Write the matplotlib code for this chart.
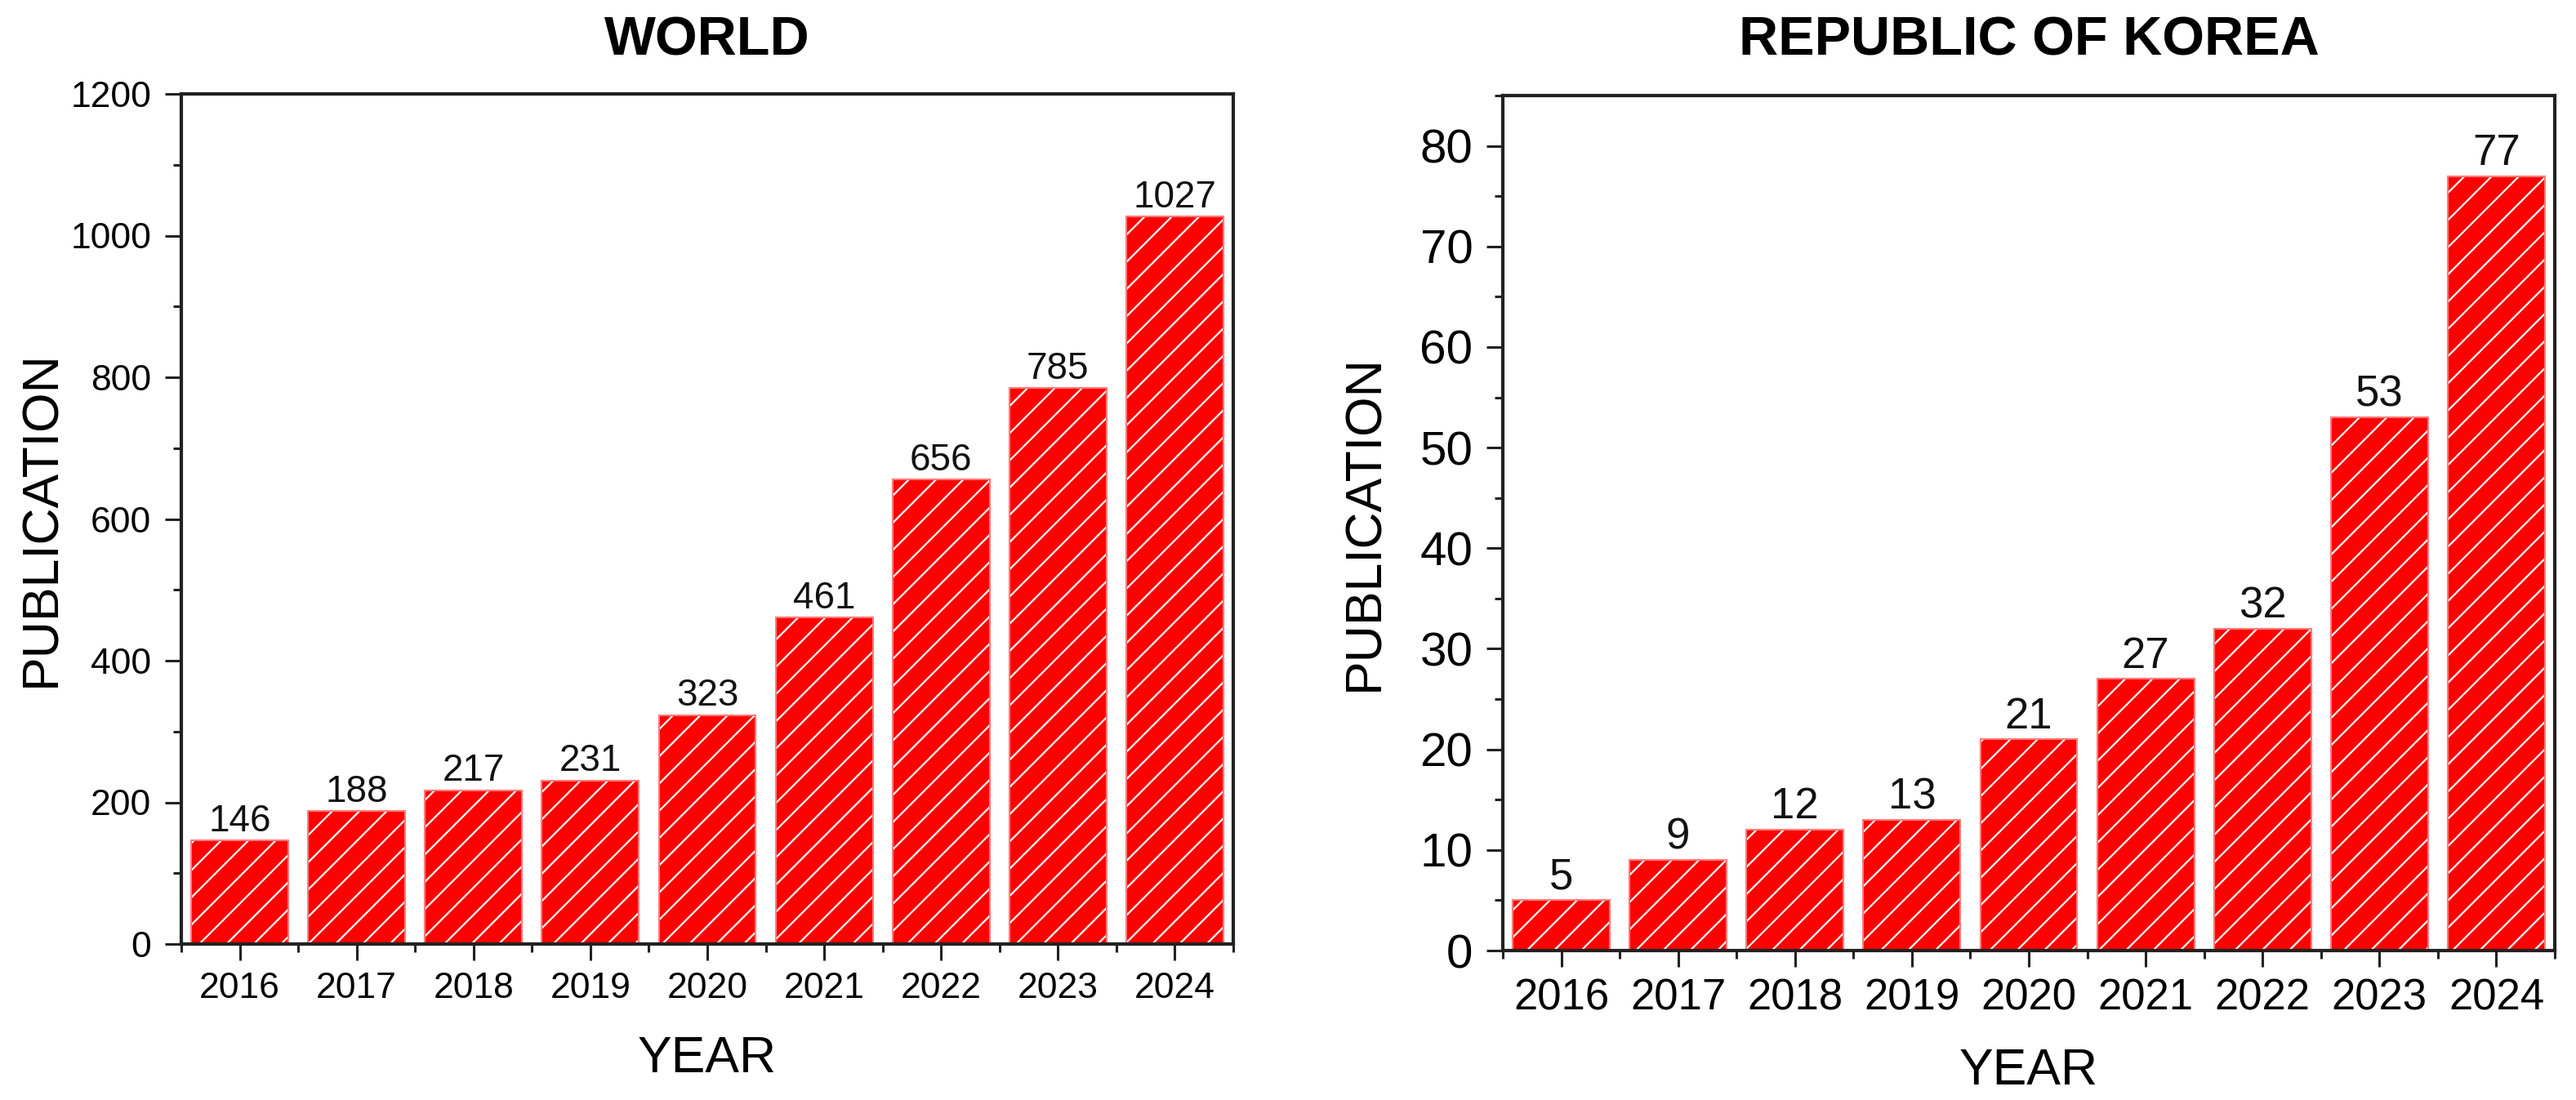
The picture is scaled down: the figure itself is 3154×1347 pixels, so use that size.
import matplotlib
matplotlib.use('Agg')
import matplotlib.pyplot as plt
from matplotlib.ticker import FixedLocator, MultipleLocator
import numpy as np

years = ['2016', '2017', '2018', '2019', '2020', '2021', '2022', '2023', '2024']
world = [146, 188, 217, 231, 323, 461, 656, 785, 1027]
korea = [5, 9, 12, 13, 21, 27, 32, 53, 77]
titles = ['WORLD', 'REPUBLIC OF KOREA']
xlabel = 'YEAR'
ylabel = 'PUBLICATION'

plt.rcParams['font.family'] = ['Liberation Sans', 'DejaVu Sans']
plt.rcParams['hatch.linewidth'] = 1.6

W, H = 3154, 1347
fig = plt.figure(figsize=(W / 100, H / 100), dpi=100)


def px_axes(x0, x1, y0, y1):
    return fig.add_axes([x0 / W, 1 - y1 / H, (x1 - x0) / W, (y1 - y0) / H])


ax1 = px_axes(222, 1510, 115, 1156)
ax2 = px_axes(1840, 3128, 117, 1164)

cfg = [
    dict(ax=ax1, data=world, ylim=(0, 1200), major=200, minor=100,
         xtick_fs=32, ytick_fs=32, lab_fs=33, lab_pad=1, title_pad=34.5,
         ylab_x=-0.110, xlab_y=-0.1066),
    dict(ax=ax2, data=korea, ylim=(0, 85), major=10, minor=5,
         xtick_fs=38, ytick_fs=42, lab_fs=38, lab_pad=2, title_pad=36,
         ylab_x=-0.1087, xlab_y=-0.1127),
]

x = np.arange(len(years))
for c, title in zip(cfg, titles):
    ax = c['ax']
    bars = ax.bar(x, c['data'], width=0.83, color='#ff0000', edgecolor='white',
                  hatch='/', linewidth=0, zorder=2)
    ax.bar(x, c['data'], width=0.83, fill=False, edgecolor='#ff7a7a',
           linewidth=1.5, zorder=3)
    ax.bar_label(bars, labels=[str(v) for v in c['data']], padding=c['lab_pad'],
                 fontsize=c['lab_fs'], color='#111111')
    ax.set_xlim(-0.5, len(years) - 0.5)
    ax.set_ylim(*c['ylim'])
    ax.set_xticks(x)
    ax.set_xticklabels(years)
    ax.xaxis.set_minor_locator(FixedLocator(np.arange(-0.5, len(years), 1.0)))
    ax.yaxis.set_major_locator(MultipleLocator(c['major']))
    ax.yaxis.set_minor_locator(MultipleLocator(c['minor']))
    ax.tick_params(which='major', direction='out', length=14.4, width=2.2,
                   color='#222222', pad=12)
    ax.tick_params(which='minor', direction='out', length=7.2, width=2.2,
                   color='#222222')
    ax.tick_params(axis='x', which='major', labelsize=c['xtick_fs'], pad=10)
    ax.tick_params(axis='y', which='major', labelsize=c['ytick_fs'])
    ax.tick_params(top=False, right=False, which='both')
    for s in ax.spines.values():
        s.set_linewidth(3)
        s.set_color('#222222')
        s.set_zorder(4)
    ax.set_title(title, fontsize=48, fontweight='bold', pad=c['title_pad'])
    ax.set_ylabel(ylabel, fontsize=45)
    ax.set_xlabel(xlabel, fontsize=45)
    ax.yaxis.set_label_coords(c['ylab_x'], 0.5)
    ax.xaxis.set_label_coords(0.5, c['xlab_y'])

fig.savefig('out.png', dpi=100, facecolor='white')
